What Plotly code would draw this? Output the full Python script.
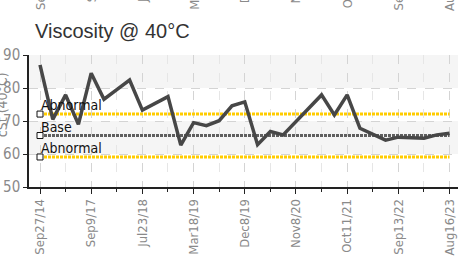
import plotly.graph_objects as go

# ---- data ----
values = [87.0, 70.5, 77.9, 69.0, 84.5, 76.6, 79.5, 82.4, 73.3, 75.3, 77.4,
          62.7, 69.5, 68.6, 70.1, 74.6, 75.8, 62.8, 66.8, 65.8, 69.8, 73.9,
          77.9, 71.8, 77.9, 67.8, 66.0, 64.2, 65.1, 65.0, 64.8, 65.8, 66.3]
idx = list(range(len(values)))
tick_idx = [0, 4, 8, 12, 16, 20, 24, 28, 32]
tick_labels = ["Sep27/14", "Sep9/17", "Jul23/18", "Mar18/19", "Dec8/19",
               "Nov8/20", "Oct11/21", "Sep13/22", "Aug16/23"]
upper_abnormal = 72.1
base = 65.6
lower_abnormal = 59.1
limit_names = ["Abnormal", "Base", "Abnormal"]
limit_values = [upper_abnormal, base, lower_abnormal]
limit_colors = ["#FFCC00", "#5f5f5f", "#FFCC00"]

TICKFONT = "DejaVu Sans Condensed, Roboto, sans-serif"

fig = go.Figure()

# background bands
for lo, hi in [(60, 70), (80, 90)]:
    fig.add_shape(type="rect", xref="paper", x0=0, x1=1, yref="y", y0=lo, y1=hi,
                  fillcolor="#f5f5f5", line_width=0, layer="below")

# limit lines
for name, val, col in zip(limit_names, limit_values, limit_colors):
    fig.add_trace(go.Scatter(x=idx, y=[val] * len(idx), mode="lines",
                             line=dict(color=col, width=3, dash="3px,1px"),
                             hoverinfo="skip", showlegend=False))
    fig.add_trace(go.Scatter(x=[idx[0]], y=[val], mode="markers",
                             marker=dict(symbol="square", size=6, color="white",
                                         line=dict(color="#111", width=1)),
                             hoverinfo="skip", showlegend=False))
    fig.add_annotation(x=idx[0], y=val, xref="x", yref="y", text=name,
                       showarrow=False, xanchor="left", yanchor="bottom",
                       xshift=-1, yshift=-1,
                       font=dict(family=TICKFONT, size=14, color="#111111"))

# main series
fig.add_trace(go.Scatter(x=idx, y=values, mode="lines",
                         line=dict(color="#474747", width=3.5),
                         showlegend=False))

# clipped tick labels of the chart above
for ti, tl in zip(tick_idx, tick_labels):
    fig.add_annotation(x=ti, y=1.78, xref="x", yref="paper", text=tl,
                       showarrow=False, textangle=-90, xanchor="center",
                       yanchor="top",
                       font=dict(family=TICKFONT, size=13, color="#8a8a8a"))

# y axis title (partly cut at left edge)
fig.add_annotation(x=0, y=0.62, xref="paper", yref="paper", text="cSt (40°C)",
                   showarrow=False, textangle=-90, xanchor="right", yanchor="middle",
                   xshift=-17,
                   font=dict(family=TICKFONT, size=14, color="#8a8a8a"))

fig.update_layout(
    width=458, height=264,
    margin=dict(l=29, r=0, t=55, b=77, autoexpand=False),
    paper_bgcolor="white", plot_bgcolor="white",
    title=dict(text="Viscosity @ 40°C", x=35 / 458, xanchor="left",
               y=1 - 31 / 264, yanchor="middle", automargin=False,
               font=dict(family="Liberation Sans", size=20, color="#333333")),
    showlegend=False,
)
fig.update_xaxes(
    automargin=False,
    range=[-0.86, 32.66], tickmode="array", tickvals=tick_idx, ticktext=tick_labels,
    tickangle=-90, ticks="outside", ticklen=5, tickcolor="#222",
    tickfont=dict(family=TICKFONT, size=13, color="#8a8a8a"),
    showline=True, linecolor="#222", linewidth=1.5,
    showgrid=True, gridcolor="#d4d4d4", griddash="dash", gridwidth=1,
    minor=dict(dtick=2, tick0=0, ticks="outside", ticklen=3, tickcolor="#222",
               showgrid=True, gridcolor="#e6e6e6", griddash="dash"),
    zeroline=False,
)
fig.update_yaxes(
    automargin=False,
    range=[50, 90], tickvals=[50, 60, 70, 80, 90], ticks="outside", ticklen=4,
    tickcolor="#222",
    tickfont=dict(family=TICKFONT, size=15, color="#8a8a8a"),
    showline=True, linecolor="#222", linewidth=1.5,
    showgrid=True, gridcolor="#d4d4d4", griddash="dash", gridwidth=1,
    zeroline=False,
)

fig.write_html("out.html", config={"displayModeBar": False},
               post_script="document.body.style.margin='0';")
